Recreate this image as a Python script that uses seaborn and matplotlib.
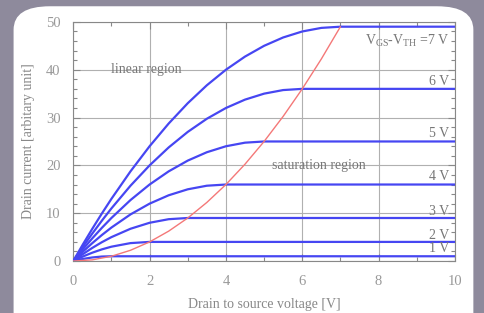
import numpy as np
import pandas as pd
import seaborn as sns
import matplotlib.pyplot as plt
from matplotlib.patches import FancyBboxPatch
from matplotlib.ticker import MultipleLocator

# drain-source voltage sample points [V]
vds = [0, 0.25, 0.5, 0.75, 1, 1.5, 2, 2.5, 3, 3.5, 4, 4.5, 5, 5.5, 6, 6.5, 7, 10]

# drain current for each overdrive voltage VGS-VTH
overdrive = [1, 2, 3, 4, 5, 6, 7]
id_1v = [0, 0.44, 0.75, 0.94, 1, 1, 1, 1, 1, 1, 1, 1, 1, 1, 1, 1, 1, 1]
id_2v = [0, 0.94, 1.75, 2.44, 3, 3.75, 4, 4, 4, 4, 4, 4, 4, 4, 4, 4, 4, 4]
id_3v = [0, 1.44, 2.75, 3.94, 5, 6.75, 8, 8.75, 9, 9, 9, 9, 9, 9, 9, 9, 9, 9]
id_4v = [0, 1.94, 3.75, 5.44, 7, 9.75, 12, 13.75, 15, 15.75, 16, 16, 16, 16, 16, 16, 16, 16]
id_5v = [0, 2.44, 4.75, 6.94, 9, 12.75, 16, 18.75, 21, 22.75, 24, 24.75, 25, 25, 25, 25, 25, 25]
id_6v = [0, 2.94, 5.75, 8.44, 11, 15.75, 20, 23.75, 27, 29.75, 32, 33.75, 35, 35.75, 36, 36, 36, 36]
id_7v = [0, 3.44, 6.75, 9.94, 13, 18.75, 24, 28.75, 33, 36.75, 40, 42.75, 45, 46.75, 48, 48.75, 49, 49]

# boundary between linear and saturation region
vds_sat = [0, 0.5, 1, 1.5, 2, 2.5, 3, 3.5, 4, 4.5, 5, 5.5, 6, 6.5, 7]
id_sat = [0, 0.25, 1, 2.25, 4, 6.25, 9, 12.25, 16, 20.25, 25, 30.25, 36, 42.25, 49]

curve_labels = ['1 V', '2 V', '3 V', '4 V', '5 V', '6 V', r'V$_\mathrm{GS}$-V$_\mathrm{TH}$ =7 V']
label_y = [2.6, 5.3, 10.3, 17.6, 26.6, 37.6, 46.0]

curves = [id_1v, id_2v, id_3v, id_4v, id_5v, id_6v, id_7v]
df = pd.concat([
    pd.DataFrame({'vds': vds, 'id': c, 'vov': v}) for c, v in zip(curves, overdrive)
])
df_sat = pd.DataFrame({'vds': vds_sat, 'id': id_sat})

sns.set_style('ticks')
plt.rcParams['font.family'] = ['Liberation Serif', 'DejaVu Serif']
plt.rcParams['mathtext.fontset'] = 'custom'
plt.rcParams['mathtext.rm'] = 'Liberation Serif'

fig = plt.figure(figsize=(4.85, 3.13), dpi=100)
fig.patch.set_facecolor('#8e8a9c')

# white rounded panel behind the chart
panel = FancyBboxPatch((0.028, -0.10), 0.948, 1.08,
                       boxstyle='round,pad=0,rounding_size=0.075',
                       transform=fig.transFigure, facecolor='white',
                       edgecolor='none', zorder=-5)
fig.patches.append(panel)

ax = fig.add_axes([0.151, 0.166, 0.787, 0.764])
ax.set_zorder(2)
ax.set_facecolor('white')

sns.lineplot(data=df, x='vds', y='id', hue='vov', units='vov', estimator=None,
             palette=['#4646f2'] * 7, linewidth=1.6, legend=False, ax=ax, zorder=3)
sns.lineplot(data=df_sat, x='vds', y='id', color='#f47878', linewidth=1.0,
             ax=ax, zorder=4)

ax.set_xlim(0, 10)
ax.set_ylim(0, 50)
ax.xaxis.set_major_locator(MultipleLocator(2))
ax.xaxis.set_minor_locator(MultipleLocator(1))
ax.yaxis.set_major_locator(MultipleLocator(10))
ax.yaxis.set_minor_locator(MultipleLocator(2))
ax.grid(True, which='major', color='#b0b0b0', linewidth=0.8)
ax.tick_params(which='both', direction='in', top=True, right=True,
               colors='#888888', labelcolor='#999999', labelsize=10.5)
ax.tick_params(axis='x', which='major', pad=10)
ax.tick_params(axis='y', which='major', pad=9)
ax.tick_params(which='major', length=5, width=0.8)
ax.tick_params(which='minor', length=3, width=0.8)
for s in ax.spines.values():
    s.set_color('#888888')
    s.set_linewidth(0.8)

ax.set_xlabel('Drain to source voltage [V]', color='#888888', fontsize=10, labelpad=7)
ax.set_ylabel('Drain current [arbitary unit]', color='#888888', fontsize=10, labelpad=8)

ax.text(1.0, 40, 'linear region', color='#777777', fontsize=10, va='center')
ax.text(5.2, 20, 'saturation region', color='#777777', fontsize=10, va='center')
for lab, y in zip(curve_labels, label_y):
    ax.text(9.85, y, lab, color='#777777', fontsize=10, ha='right', va='center', zorder=5)

fig.savefig('out.png', dpi=100, facecolor=fig.get_facecolor())
